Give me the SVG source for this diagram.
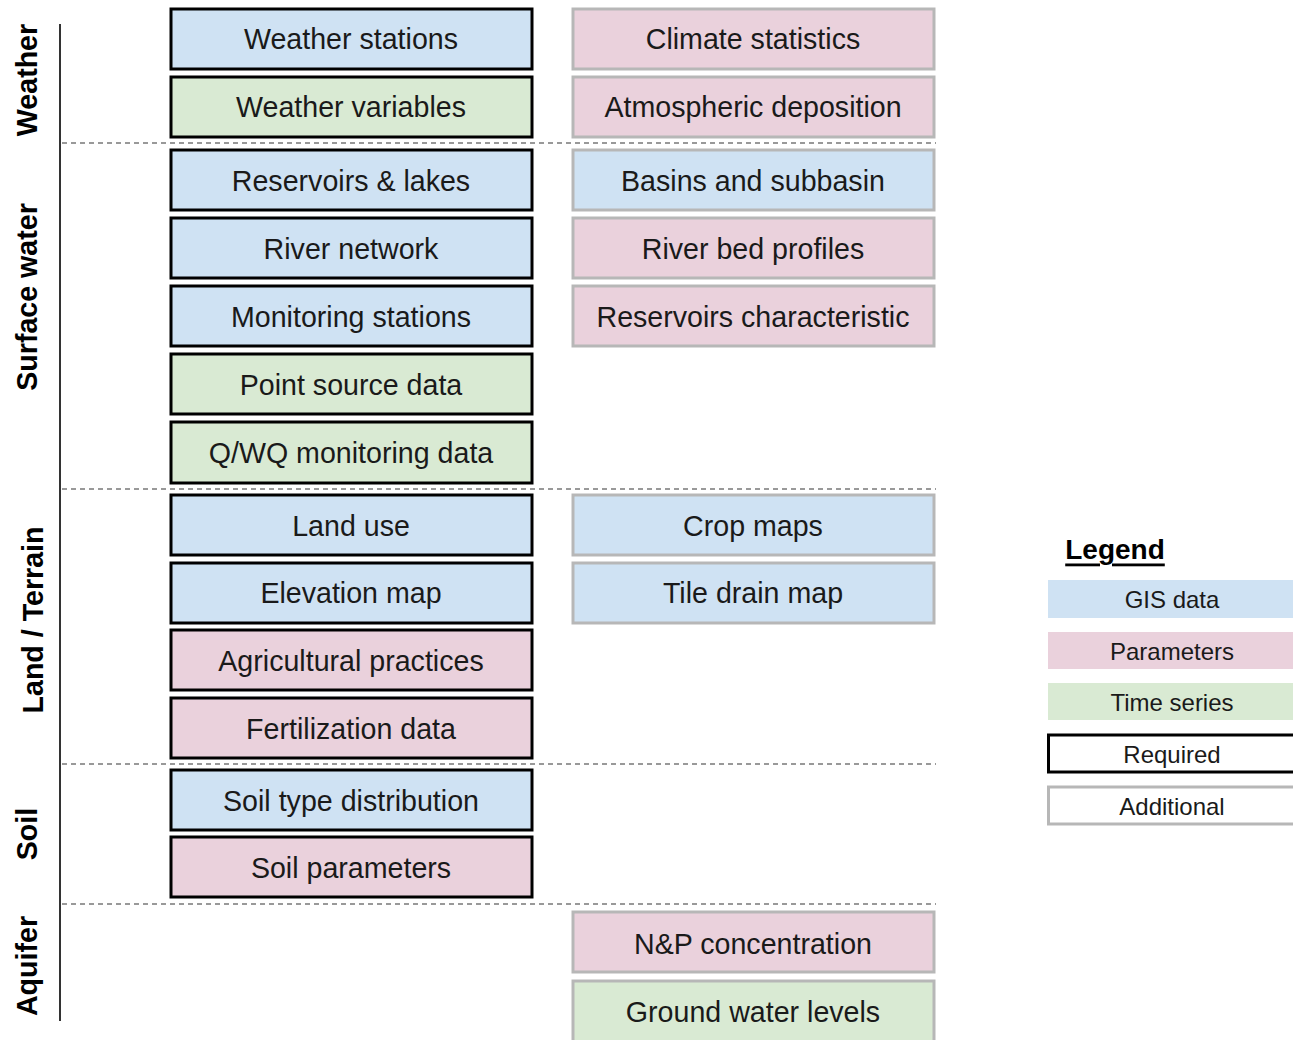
<svg xmlns="http://www.w3.org/2000/svg" width="1293" height="1040" viewBox="0 0 1293 1040">
<style>
  text { font-family: "Liberation Sans", Arial, sans-serif; fill: #1a1a1a; }
  .lbl { font-size: 28.6px; text-anchor: middle; dominant-baseline: central; }
  .sec { font-size: 28.6px; font-weight: bold; text-anchor: middle; dominant-baseline: central; fill: #000; }
  .leg { font-size: 24px; text-anchor: middle; dominant-baseline: central; }
  .gis { fill: #cfe2f3; }
  .par { fill: #ead1dc; }
  .ts { fill: #d9ead3; }
  .req { stroke: #000; stroke-width: 3; }
  .add { stroke: #b7b7b7; stroke-width: 3; }
  .dash { stroke: #999; stroke-width: 2; stroke-dasharray: 5 4; fill: none; }
</style>
<rect width="1293" height="1040" fill="#fff"/>
<g id="axis">
  <line x1="60" y1="24" x2="60" y2="1021" stroke="#333" stroke-width="2"/>
  <line class="dash" x1="62" y1="143" x2="936" y2="143"/>
  <line class="dash" x1="62" y1="489" x2="936" y2="489"/>
  <line class="dash" x1="62" y1="764" x2="936" y2="764"/>
  <line class="dash" x1="62" y1="904" x2="936" y2="904"/>
</g>
<g id="sections">
  <text class="sec" transform="translate(27,80) rotate(-90)">Weather</text>
  <text class="sec" transform="translate(27,297) rotate(-90)">Surface water</text>
  <text class="sec" transform="translate(33,620) rotate(-90)">Land / Terrain</text>
  <text class="sec" transform="translate(27,834) rotate(-90)">Soil</text>
  <text class="sec" transform="translate(27,966) rotate(-90)">Aquifer</text>
</g>
<g id="connectors"></g>
<g id="n-weather-stations"><rect class="gis req" x="171" y="9" width="361" height="60"/><text class="lbl" x="351" y="39">Weather stations</text></g>
<g id="n-weather-variables"><rect class="ts req" x="171" y="77" width="361" height="60"/><text class="lbl" x="351" y="107">Weather variables</text></g>
<g id="n-reservoirs-lakes"><rect class="gis req" x="171" y="150" width="361" height="60"/><text class="lbl" x="351" y="181">Reservoirs &amp; lakes</text></g>
<g id="n-river-network"><rect class="gis req" x="171" y="218" width="361" height="60"/><text class="lbl" x="351" y="249">River network</text></g>
<g id="n-monitoring-stations"><rect class="gis req" x="171" y="286" width="361" height="60"/><text class="lbl" x="351" y="317">Monitoring stations</text></g>
<g id="n-point-source"><rect class="ts req" x="171" y="354" width="361" height="60"/><text class="lbl" x="351" y="385">Point source data</text></g>
<g id="n-qwq"><rect class="ts req" x="171" y="422" width="361" height="61"/><text class="lbl" x="351" y="453">Q/WQ monitoring data</text></g>
<g id="n-land-use"><rect class="gis req" x="171" y="495" width="361" height="60"/><text class="lbl" x="351" y="526">Land use</text></g>
<g id="n-elevation"><rect class="gis req" x="171" y="563" width="361" height="60"/><text class="lbl" x="351" y="593">Elevation map</text></g>
<g id="n-agri"><rect class="par req" x="171" y="630" width="361" height="60"/><text class="lbl" x="351" y="661">Agricultural practices</text></g>
<g id="n-fert"><rect class="par req" x="171" y="698" width="361" height="60"/><text class="lbl" x="351" y="729">Fertilization data</text></g>
<g id="n-soil-type"><rect class="gis req" x="171" y="770" width="361" height="60"/><text class="lbl" x="351" y="801">Soil type distribution</text></g>
<g id="n-soil-params"><rect class="par req" x="171" y="837" width="361" height="60"/><text class="lbl" x="351" y="868">Soil parameters</text></g>

<g id="n-climate"><rect class="par add" x="573" y="9" width="361" height="60"/><text class="lbl" x="753" y="39">Climate statistics</text></g>
<g id="n-atmo"><rect class="par add" x="573" y="77" width="361" height="60"/><text class="lbl" x="753" y="107">Atmospheric deposition</text></g>
<g id="n-basins"><rect class="gis add" x="573" y="150" width="361" height="60"/><text class="lbl" x="753" y="181">Basins and subbasin</text></g>
<g id="n-riverbed"><rect class="par add" x="573" y="218" width="361" height="60"/><text class="lbl" x="753" y="249">River bed profiles</text></g>
<g id="n-res-char"><rect class="par add" x="573" y="286" width="361" height="60"/><text class="lbl" x="753" y="317">Reservoirs characteristic</text></g>
<g id="n-crop"><rect class="gis add" x="573" y="495" width="361" height="60"/><text class="lbl" x="753" y="526">Crop maps</text></g>
<g id="n-tile"><rect class="gis add" x="573" y="563" width="361" height="60"/><text class="lbl" x="753" y="593">Tile drain map</text></g>
<g id="n-np"><rect class="par add" x="573" y="912" width="361" height="60"/><text class="lbl" x="753" y="944">N&amp;P concentration</text></g>
<g id="n-gw"><rect class="ts add" x="573" y="981" width="361" height="70"/><text class="lbl" x="753" y="1012">Ground water levels</text></g>

<g id="legend">
  <text x="1115" y="549" font-size="28" font-weight="bold" text-anchor="middle" dominant-baseline="central" text-decoration="underline" style="fill:#000">Legend</text>
  <rect class="gis" x="1048" y="580" width="250" height="38"/><text class="leg" x="1172" y="599">GIS data</text>
  <rect class="par" x="1048" y="632" width="250" height="37"/><text class="leg" x="1172" y="651">Parameters</text>
  <rect class="ts" x="1048" y="683" width="250" height="37"/><text class="leg" x="1172" y="702">Time series</text>
  <rect class="req" fill="#fff" x="1048.5" y="735" width="250" height="37"/><text class="leg" x="1172" y="754">Required</text>
  <rect class="add" fill="#fff" x="1048.5" y="787" width="250" height="37"/><text class="leg" x="1172" y="806">Additional</text>
</g>
</svg>
